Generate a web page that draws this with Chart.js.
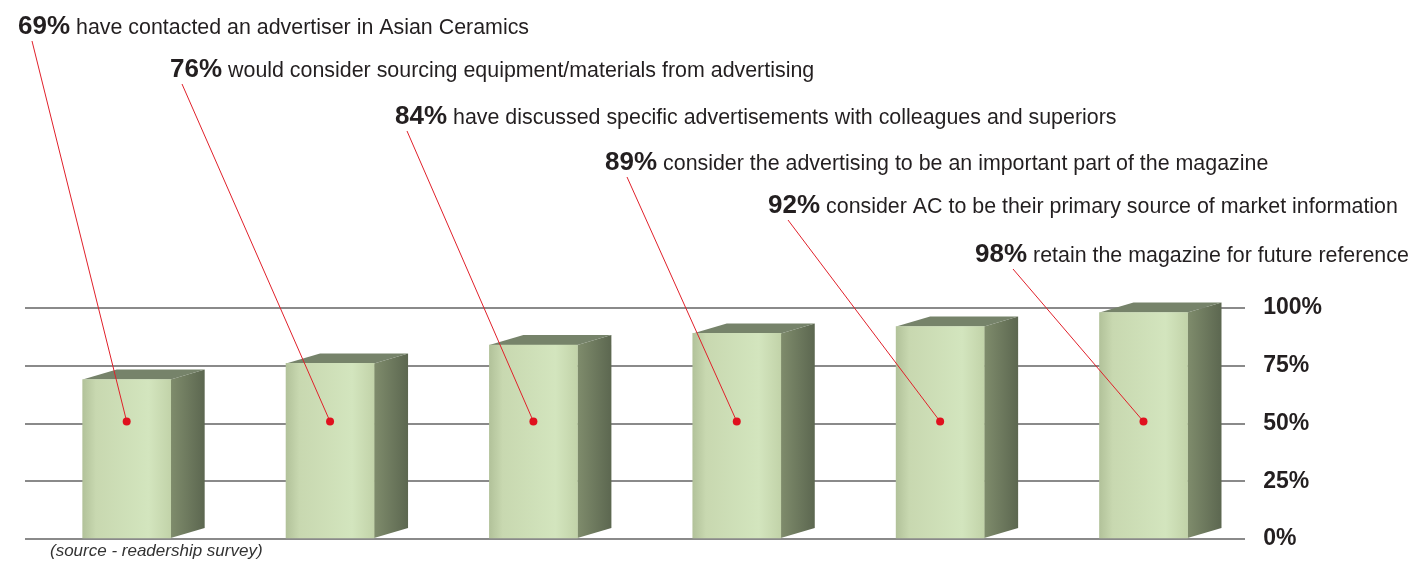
<!DOCTYPE html>
<html>
<head>
<meta charset="utf-8">
<script src="https://cdn.jsdelivr.net/npm/chart.js@4"></script>
<style>
    html, body { margin: 0; padding: 0; background: #fff; }
    #wrap { position: relative; width: 1415px; height: 573px; }
</style>
</head>
<body>
<div id="wrap"><canvas id="chart" width="1415" height="573"></canvas></div>
<script>
// Survey results (percent of readers)
const categories = ['contacted', 'sourcing', 'discussed', 'important', 'primary', 'retain'];
const values = [69, 76, 84, 89, 92, 98];
const statements = [
    'have contacted an advertiser in Asian Ceramics',
    'would consider sourcing equipment/materials from advertising',
    'have discussed specific advertisements with colleagues and superiors',
    'consider the advertising to be an important part of the magazine',
    'consider AC to be their primary source of market information',
    'retain the magazine for future reference'
];
const tickValues = [0, 25, 50, 75, 100];

// Layout of the callout labels (left x, middle y) and where each leader line leaves the text
const labelX = [18, 170, 395, 605, 768, 975];
const labelY = [27, 70, 117, 163, 206, 255];
const leaderOffset = [14, 12, 12, 22, 20, 38];

const BAR_W = 88;
const DEPTH_X = 34;
const DEPTH_Y = 10;

// Draws the top and side faces so the bars look like boxes
const boxPlugin = {
    id: 'boxes',
    beforeDatasetsDraw(chart) {
        const ctx = chart.ctx;
        const meta = chart.getDatasetMeta(0);
        ctx.save();
        meta.data.forEach(bar => {
            const half = bar.width / 2;
            const left = bar.x - half, right = bar.x + half;
            const top = bar.y, base = bar.base;

            const side = ctx.createLinearGradient(right, 0, right + DEPTH_X, 0);
            side.addColorStop(0, '#7f8c6c');
            side.addColorStop(1, '#5c6750');
            ctx.fillStyle = side;
            ctx.beginPath();
            ctx.moveTo(right, top);
            ctx.lineTo(right + DEPTH_X, top - DEPTH_Y);
            ctx.lineTo(right + DEPTH_X, base - DEPTH_Y);
            ctx.lineTo(right, base);
            ctx.closePath();
            ctx.fill();

            ctx.fillStyle = '#76836a';
            ctx.beginPath();
            ctx.moveTo(left, top);
            ctx.lineTo(left + DEPTH_X, top - DEPTH_Y);
            ctx.lineTo(right + DEPTH_X, top - DEPTH_Y);
            ctx.lineTo(right, top);
            ctx.closePath();
            ctx.fill();
        });
        ctx.restore();
    }
};

// Callout text, red leader lines and dots
const calloutPlugin = {
    id: 'callouts',
    afterDraw(chart) {
        const ctx = chart.ctx;
        const meta = chart.getDatasetMeta(0);
        const yScale = chart.scales.y;
        const dotY = yScale.getPixelForValue(50) - 2;
        ctx.save();
        ctx.textBaseline = 'middle';
        values.forEach((v, i) => {
            const bar = meta.data[i];
            const x = labelX[i], y = labelY[i];

            ctx.strokeStyle = '#e0202a';
            ctx.lineWidth = 1;
            ctx.beginPath();
            ctx.moveTo(x + leaderOffset[i], y + 14);
            ctx.lineTo(bar.x, dotY);
            ctx.stroke();

            ctx.fillStyle = '#e0101e';
            ctx.beginPath();
            ctx.arc(bar.x, dotY, 4, 0, Math.PI * 2);
            ctx.fill();

            ctx.fillStyle = '#231f20';
            ctx.font = 'bold 26px "Liberation Sans", Arial, sans-serif';
            const pct = v + '%';
            ctx.fillText(pct, x, y);
            const w = ctx.measureText(pct).width;
            ctx.font = '21.4px "Liberation Sans", Arial, sans-serif';
            ctx.fillText(statements[i], x + w + 6, y + 1);
        });

        ctx.fillStyle = '#333';
        ctx.font = 'italic 17px "Liberation Sans", Arial, sans-serif';
        ctx.fillText('(source - readership survey)', 50, 551);
        ctx.restore();
    }
};

new Chart(document.getElementById('chart'), {
    type: 'bar',
    data: {
        labels: categories,
        datasets: [{
            data: values,
            barThickness: BAR_W,
            backgroundColor: function(context) {
                const chart = context.chart;
                const xScale = chart.scales.x;
                const cx = xScale ? xScale.getPixelForValue(context.dataIndex) : NaN;
                if (!isFinite(cx)) return '#c8d9b0';
                const g = chart.ctx.createLinearGradient(cx - BAR_W / 2, 0, cx + BAR_W / 2, 0);
                g.addColorStop(0, '#b2c29a');
                g.addColorStop(0.15, '#c8d8b0');
                g.addColorStop(0.75, '#d3e5be');
                g.addColorStop(1, '#c2d3a9');
                return g;
            },
            borderWidth: 0
        }]
    },
    options: {
        responsive: false,
        animation: false,
        layout: {
            padding: { left: 25, right: 75, top: 308, bottom: 34 }
        },
        scales: {
            x: {
                display: false,
                offset: true
            },
            y: {
                position: 'right',
                min: 0,
                max: 100,
                afterBuildTicks: function(axis) {
                    axis.ticks = tickValues.map(v => ({ value: v }));
                },
                grid: {
                    color: '#8a8a8a',
                    lineWidth: 2,
                    drawTicks: false
                },
                border: { display: false },
                ticks: {
                    padding: 18,
                    color: '#231f20',
                    font: { family: '"Liberation Sans", Arial, sans-serif', size: 23, weight: 'bold' },
                    callback: function(value) { return value + '%'; }
                }
            }
        },
        plugins: {
            legend: { display: false },
            tooltip: { enabled: false }
        }
    },
    plugins: [boxPlugin, calloutPlugin]
});
</script>
</body>
</html>
